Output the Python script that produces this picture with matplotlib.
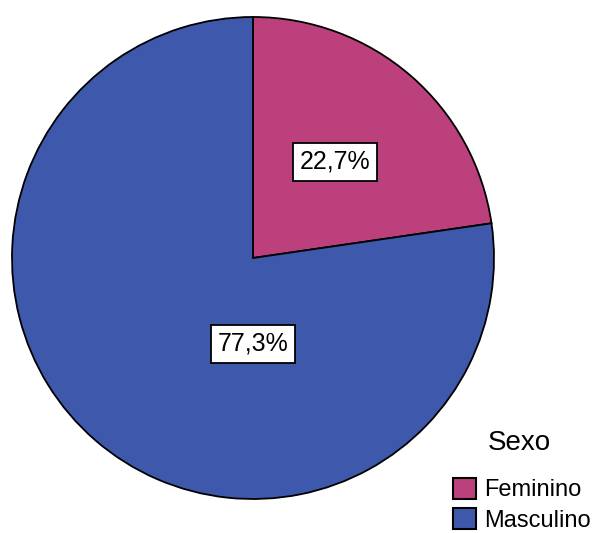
import matplotlib
matplotlib.use("Agg")
import matplotlib.pyplot as plt
from matplotlib.patches import Patch

categories = ["Feminino", "Masculino"]
values = [22.7, 77.3]
labels = ["22,7%", "77,3%"]
colors = ["#BB407C", "#3E58AC"]
legend_title = "Sexo"

plt.rcParams['font.family'] = ['Liberation Sans', 'DejaVu Sans']

fig = plt.figure(figsize=(5.93, 5.33), dpi=100)
ax = fig.add_axes([12/593, 34/533, 482/593, 482/533])
wedges, _ = ax.pie(values, colors=colors, startangle=90, counterclock=False,
                   radius=1.0, wedgeprops=dict(edgecolor="black", linewidth=1.3))
ax.set_xlim(-1, 1)
ax.set_ylim(-1, 1)
ax.set_aspect('equal')

label_pos = [(0.34, 0.40), (0.0, -0.355)]
for (x, y), t in zip(label_pos, labels):
    ax.text(x, y, t, ha='center', va='center', fontsize=18,
            bbox=dict(boxstyle='square,pad=0.28', facecolor='white', edgecolor='black', linewidth=1.3))

handles = [Patch(facecolor=c, edgecolor='black', linewidth=1.5) for c in colors]
leg = fig.legend(handles, categories, loc='lower right',
                 bbox_to_anchor=(600/593, -8/533), frameon=False, fontsize=17,
                 handlelength=0.98, handleheight=1.0, borderpad=0.4,
                 handletextpad=0.35, labelspacing=0.28, borderaxespad=0.0)
fig.text(519/593, 1 - 443/533, legend_title, ha='center', va='center', fontsize=20)
fig.savefig("out.png", dpi=100)
